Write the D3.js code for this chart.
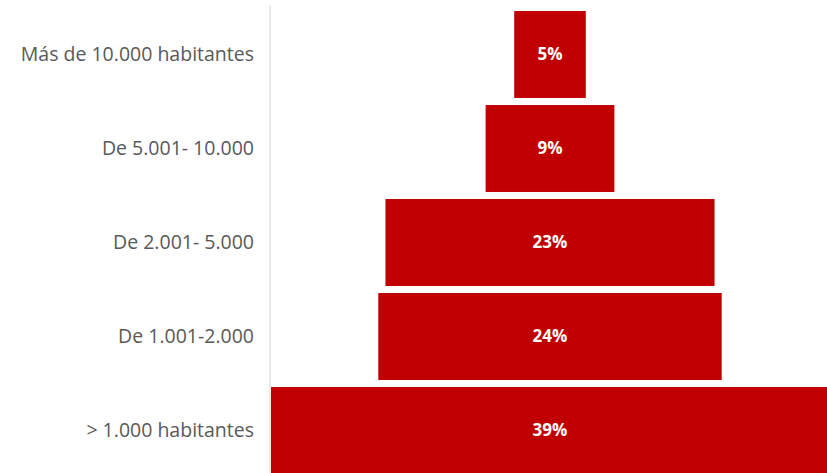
<!DOCTYPE html>
<html><head><meta charset="utf-8">
<script src="https://cdn.jsdelivr.net/npm/d3@7"></script>
<style>
html,body{margin:0;padding:0;background:#fff;}
svg{display:block;}
</style></head>
<body>
<svg id="chart" width="827" height="473"></svg>
<script>
const categories = ["Más de 10.000 habitantes", "De 5.001- 10.000", "De 2.001- 5.000", "De 1.001-2.000", "> 1.000 habitantes"];
const values = [5, 9, 23, 24, 39];
const valueLabels = ["5%", "9%", "23%", "24%", "39%"];

const svg = d3.select("#chart");
const axisX = 270;
const centerX = 550;

const y = d3.scaleBand().domain(categories).range([7.5, 477.5]).paddingInner(0.075).paddingOuter(0.0375);
const w = d3.scaleLinear().domain([0, 39]).range([0, 558]);

// axis
const ax = svg.append("g").attr("transform", `translate(${axisX},0)`)
  .call(d3.axisLeft(y).tickSize(0).tickPadding(16));
ax.select(".domain").remove();
ax.selectAll("text").attr("fill", "#595959").style("font-family", "'Open Sans', sans-serif").style("font-size", "19.5px");
svg.append("line").attr("x1", axisX).attr("x2", axisX).attr("y1", 5).attr("y2", 473)
  .attr("stroke", "#d9d9d9").attr("stroke-width", 1.2);

const data = categories.map((c, i) => ({c, v: values[i], l: valueLabels[i]}));

svg.append("g").selectAll("rect").data(data).join("rect")
  .attr("x", d => centerX - w(d.v) / 2)
  .attr("y", d => y(d.c))
  .attr("width", d => w(d.v))
  .attr("height", y.bandwidth())
  .attr("fill", "#C00000");

svg.append("g").selectAll("text").data(data).join("text")
  .attr("x", centerX)
  .attr("y", d => y(d.c) + y.bandwidth() / 2)
  .attr("dy", "0.35em")
  .attr("text-anchor", "middle")
  .attr("fill", "#fff")
  .style("font-family", "'Open Sans', sans-serif")
  .style("font-weight", "bold")
  .style("font-size", "17px")
  .text(d => d.l);
</script>
</body></html>
